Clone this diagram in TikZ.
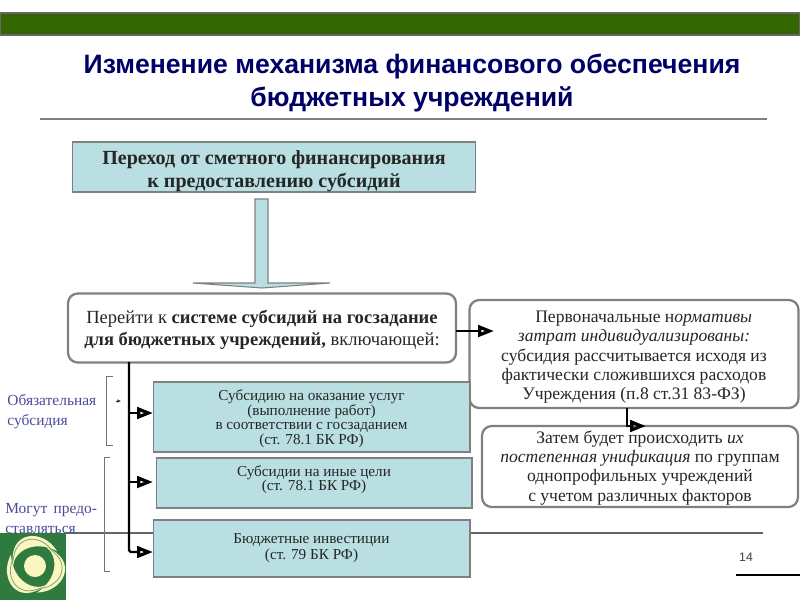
\documentclass[tikz,border=0pt]{standalone}
\usepackage{fontspec}
\setmainfont{Liberation Serif}
\newfontfamily\slidefont{Liberation Sans}
\usetikzlibrary{calc, positioning, arrows.meta}
\definecolor{barGreen}{HTML}{336600}
\definecolor{titleBlue}{HTML}{000066}
\definecolor{boxBlue}{HTML}{B9DFE3}
\definecolor{sideBlue}{HTML}{4A4A9A}
\definecolor{logoGreen}{HTML}{2F7A3E}
\definecolor{logoCream}{HTML}{FBF5C0}
\newcommand{\dropline}[1]{\rule{0pt}{#1}}
\begin{document}
\begin{tikzpicture}[x=0.02cm,y=-0.02cm]
  \tikzset{flatbox/.style={draw=black!50,line width=0.6pt,fill=boxBlue,inner sep=0,align=center,text=black!85}}
  \tikzset{roundbox/.style={draw=black!50,line width=1.3pt,fill=white,rounded corners=5.5pt,inner sep=0,align=center,text=black!85}}
  \tikzset{sidelabel/.style={anchor=west,inner sep=0,align=left,text=sideBlue,font=\fontsize{8.8}{11}\selectfont}}
  \tikzset{hollow/.style={line width=1.3pt,-{Triangle[open,length=9pt,width=6.5pt,line width=1.8pt]}}}
  \useasboundingbox (0,0) rectangle (800,600);
  \node(bar) [draw=black!60,line width=0.6pt,fill=barGreen,minimum width=16cm,minimum height=0.44cm,inner sep=0] at (400,24) {};
  \node(title) [align=center,inner sep=0,text=titleBlue,font=\slidefont\bfseries\fontsize{15.15}{18.8}\selectfont] at (412,83) {Изменение механизма финансового обеспечения\\бюджетных учреждений};
  \coordinate (ruleA) at (40,119);
  \coordinate (ruleB) at (767,119);
  \draw[black!50,line width=1pt] (ruleA) -- (ruleB);
  \coordinate (footA) at (66,533);
  \coordinate (footB) at (763,533);
  \draw[black!60,line width=1pt] (footA) -- (footB);
  \coordinate (pageA) at (736,575);
  \coordinate (pageB) at (800,575);
  \draw[black,line width=1.2pt] (pageA) -- (pageB);
  \node(page) [inner sep=0,text=black!75,font=\slidefont\fontsize{7}{8}\selectfont] at (746,557) {14};
  \node(transition) [flatbox,minimum width=8.08cm,minimum height=1cm,font=\bfseries\fontsize{11.4}{13.1}\selectfont] at (274,167) {\dropline{12.6pt}Переход от сметного финансирования\\к предоставлению субсидий};
  \draw[black!50,line width=0.6pt,fill=boxBlue] (255,199) -- (268,199) -- (268,283) -- (330,283) -- (262,288) -- (193,283) -- (255,283) -- cycle;
  \node(system) [roundbox,minimum width=7.76cm,minimum height=1.38cm,font=\fontsize{10.55}{12.4}\selectfont] at (262,328) {\dropline{10pt}Перейти к \textbf{системе субсидий на госзадание}\\\textbf{для бюджетных учреждений,} включающей:};
  \node(norms) [roundbox,minimum width=6.58cm,minimum height=2.16cm,font=\fontsize{10}{11}\selectfont] at (634,354) {\dropline{10.4pt}\hspace*{1.1em}Первоначальные н\textit{ормативы}\\\textit{затрат индивидуализированы:}\\субсидия рассчитывается исходя из\\фактически сложившихся расходов\\Учреждения (п.8 ст.31 83-ФЗ)};
  \node(unify) [roundbox,minimum width=6.32cm,minimum height=1.62cm,font=\fontsize{10}{11}\selectfont] at (640,466.5) {\dropline{8.7pt}Затем будет происходить \textit{их}\\\textit{постепенная унификация} по группам\\однопрофильных учреждений\\с учетом различных факторов};
  \node(services) [flatbox,minimum width=6.34cm,minimum height=1.4cm,font=\fontsize{8.65}{8.3}\selectfont] at (311.5,417) {\dropline{8.3pt}Субсидию на оказание услуг\\(выполнение работ)\\в соответствии с госзаданием\\(ст. 78.1 БК РФ)};
  \node(other) [flatbox,minimum width=6.32cm,minimum height=1cm,font=\fontsize{8.65}{8}\selectfont] at (314,483) {Субсидии на иные цели\\(ст. 78.1 БК РФ)\rule[-5.4pt]{0pt}{0pt}};
  \node(invest) [flatbox,minimum width=6.34cm,minimum height=1.14cm,font=\fontsize{8.65}{9}\selectfont] at (311.5,548.5) {Бюджетные инвестиции\\(ст. 79 БК РФ)};
  \coordinate (trunk) at (129,362);
  \coordinate (forkA) at (153,413);
  \coordinate (forkB) at (153,482);
  \coordinate (forkC) at (153,552);
  \draw[hollow] (trunk) |- (forkA);
  \draw[hollow] (trunk) |- (forkB);
  \draw[hollow,rounded corners=1pt] (trunk) |- (forkC);
  \coordinate (sysOut) at (456,331);
  \coordinate (normsIn) at (494,331);
  \draw[hollow] (sysOut) -- (normsIn);
  \coordinate (normsOut) at (627,408);
  \coordinate (unifyIn) at (646,426);
  \draw[hollow] (normsOut) |- (unifyIn);
  \node(must) [sidelabel] at (7,411.5) {Обязательная\\субсидия};
  \node(may) [sidelabel] at (5,518.5) {Могут\, предо-\\ставляться};
  \draw[black!55,line width=0.5pt] (113,376) -- (106,376) -- (106,445) -- (113,445);
  \draw[black!55,line width=0.5pt] (110,457) -- (104,457) -- (104,571) -- (110,571);
  \coordinate (markA) at (116,401);
  \coordinate (markB) at (121,401);
  \draw[-{Latex[length=2pt,width=2pt]},black!80,line width=0.3pt] (markA) -- (markB);
  \node(logo) [fill=logoGreen,minimum width=1.32cm,minimum height=1.34cm,inner sep=0] at (33,566.5) {};
  \begin{scope}
    \clip (0,533) rectangle (66,600);
    \foreach \rot in {0,120,240} {
      \begin{scope}[shift={(35,566)},rotate=\rot]
        \fill[logoCream] (22,-15) .. controls (8,-38) and (-27,-36) .. (-22,0) .. controls (-21,-14) and (-2,-27) .. cycle;
        \draw[logoGreen!70,line width=0.4pt] (16,-17) .. controls (4,-32) and (-20,-31) .. (-22,-5);
      \end{scope}
    }
    \fill[logoCream] (35,566) circle (11);
  \end{scope}
\end{tikzpicture}
\end{document}
